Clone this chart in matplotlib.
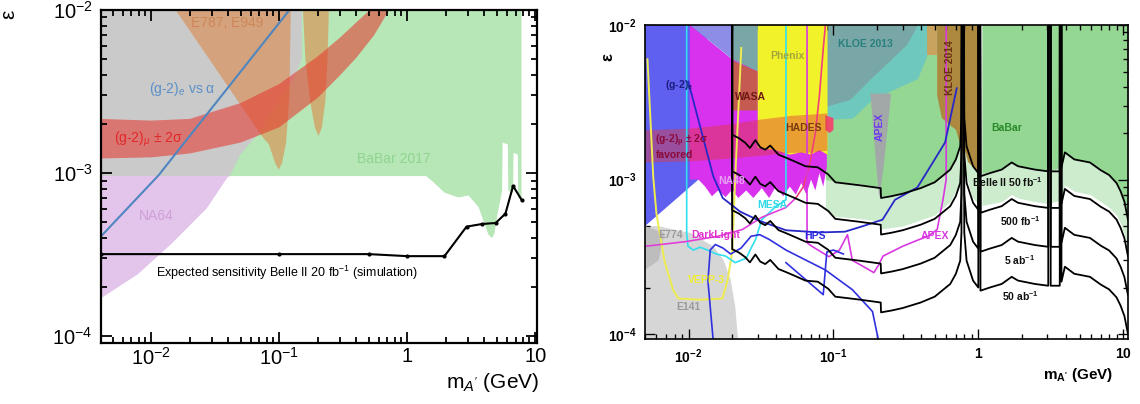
import numpy as np
import matplotlib.pyplot as plt
from matplotlib.ticker import FixedLocator, FixedFormatter, LogLocator, NullFormatter

plt.rcParams['font.family'] = ['Liberation Sans', 'DejaVu Sans']
plt.rcParams['mathtext.fontset'] = 'custom'
plt.rcParams['mathtext.rm'] = 'Liberation Sans'
plt.rcParams['mathtext.it'] = 'Liberation Sans:italic'
plt.rcParams['mathtext.bf'] = 'Liberation Sans:bold'

TOP = 1e-2

# ---------------- left panel data ----------------
na64_x = [0.00405, 0.00785, 0.0146, 0.0271, 0.0393, 0.041, 0.00405]
na64_y = [1.71e-4, 2.4e-4, 3.73e-4, 6.08e-4, 9.4e-4, 9.6e-4, 9.6e-4]

excl_x = [0.00405, 0.041, 0.0495, 0.071, 0.1, 0.13, 0.15, 0.15, 0.00405]
excl_y = [9.6e-4, 9.6e-4, 1.3e-3, 1.8e-3, 2.8e-3, 3.8e-3, 5e-3, 1e-2, 1e-2]

babar17_x = [0.02, 1.4, 1.6, 1.95, 2.5, 3.0, 3.6, 4.3, 4.6, 4.8, 5.06, 5.5, 5.55,
             6.1, 6.15, 6.7, 6.75, 7.3, 7.35, 7.8]
babar17_y = [9.6e-4, 9.6e-4, 8.8e-4, 7.6e-4, 7.1e-4, 7.3e-4, 6.2e-4, 4.2e-4, 4.0e-4,
             4.3e-4, 5.6e-4, 7.8e-4, 1.54e-3, 1.5e-3, 7.8e-4, 7.6e-4, 1.33e-3, 1.3e-3,
             7.0e-4, 7.0e-4]

e787a_x = [0.0155, 0.073, 0.083, 0.093, 0.099, 0.105, 0.113, 0.12, 0.123]
e787a_y = [1e-2, 1.69e-3, 1.5e-3, 1.15e-3, 1.05e-3, 1.15e-3, 1.54e-3, 3e-3, 1e-2]
e787b_x = [0.153, 0.16, 0.174, 0.19, 0.202, 0.215, 0.229, 0.238, 0.244]
e787b_y = [1e-2, 5e-3, 2.76e-3, 1.9e-3, 1.69e-3, 1.9e-3, 2.76e-3, 5e-3, 1e-2]

gm2mu_hi_x = [0.00405, 0.01, 0.02, 0.05, 0.1, 0.2, 0.3, 0.4, 0.51]
gm2mu_hi_y = [2.15e-3, 2.1e-3, 2.15e-3, 2.69e-3, 3.52e-3, 5.2e-3, 6.8e-3, 8.4e-3, 1e-2]
gm2mu_lo_x = [0.00405, 0.01, 0.02, 0.05, 0.1, 0.2, 0.3, 0.4, 0.55, 0.72]
gm2mu_lo_y = [1.23e-3, 1.25e-3, 1.32e-3, 1.54e-3, 1.91e-3, 2.9e-3, 4.0e-3, 5.1e-3, 7e-3, 1e-2]

gm2e_line_x = [0.00405, 0.0114, 0.12]
gm2e_line_y = [4.1e-4, 9.7e-4, 1e-2]

belle20_x = [0.00405, 0.1, 0.5, 1.0, 1.95, 2.9, 3.83, 4.9, 5.84, 6.7, 7.8]
belle20_y = [3.19e-4, 3.19e-4, 3.19e-4, 3.1e-4, 3.1e-4, 4.7e-4, 4.88e-4, 4.95e-4,
             5.65e-4, 8.35e-4, 6.87e-4]

# ---------------- right panel data ----------------
bab_x = [0.088, 0.1, 0.15, 0.2, 0.212, 0.213, 0.3, 0.5, 0.64, 0.7, 0.75, 0.8, 0.9, 0.985]
bab_lo = [1.0e-3, 9.8e-4, 9.4e-4, 9.0e-4, 8.9e-4, 7.8e-4, 8.2e-4, 9.7e-4, 1.17e-3,
          1.36e-3, 1.65e-3, 2.0e-3, 1.25e-3, 1.12e-3]
bab_fade = [6.5e-4, 5.8e-4, 5.6e-4, 5.4e-4, 5.3e-4, 4.8e-4, 5.0e-4, 5.9e-4, 7.2e-4,
            8.5e-4, 1.0e-3, 1.2e-3, 7.8e-4, 7.0e-4]
bab2_x = [1.06, 1.45, 1.7, 1.88, 2.46, 3.04, 3.75, 3.96, 4.6, 5.9, 7.0, 8.0, 9.0, 9.6, 10.2, 10.8]
bab2_lo = [1.1e-3, 1.17e-3, 1.3e-3, 1.23e-3, 1.17e-3, 1.14e-3, 1.2e-3, 1.5e-3, 1.36e-3,
           1.3e-3, 1.16e-3, 1.08e-3, 9.6e-4, 8.5e-4, 7.3e-4, 5.6e-4]
bab2_fade = [6.8e-4, 7.2e-4, 8.0e-4, 7.6e-4, 7.2e-4, 7.0e-4, 7.4e-4, 9.2e-4, 8.4e-4,
             8.0e-4, 7.2e-4, 6.6e-4, 5.9e-4, 5.2e-4, 4.4e-4, 3.4e-4]

kloe13_light_x = [0.09, 0.135, 0.185, 0.255, 0.38, 0.44, 0.47]
kloe13_light_y = [2.45e-3, 2.5e-3, 3.3e-3, 3.8e-3, 4.5e-3, 6.3e-3, 1e-2]
kloe13_dark_x = [0.02, 0.09, 0.13, 0.18, 0.25, 0.32, 0.38]
kloe13_dark_y = [2.8e-3, 3.0e-3, 3.3e-3, 4.5e-3, 6.0e-3, 7.5e-3, 1e-2]

apex_excl_x = [0.18, 0.25, 0.222, 0.207, 0.198]
apex_excl_y = [3.6e-3, 3.6e-3, 1.2e-3, 7.6e-4, 1.2e-3]

kloe14a_x = [0.44, 0.52, 0.52, 0.44]
kloe14a_y = [1e-2, 1e-2, 6.4e-3, 6.4e-3]
kloe14b_x = [0.52, 0.52, 0.56, 0.62, 0.7, 0.75, 0.77, 0.8, 0.85, 0.92, 0.99, 0.99]
kloe14b_y = [1e-2, 3.5e-3, 2.5e-3, 2.3e-3, 2.1e-3, 1.7e-3, 1.5e-3, 1.6e-3, 1.3e-3,
             1.2e-3, 1.12e-3, 1e-2]

e141_x = [0.005, 0.005, 0.0061, 0.0104, 0.0148, 0.0175, 0.0195, 0.021, 0.022]
e141_y = [9e-5, 5e-4, 5e-4, 4.5e-4, 3.7e-4, 3.0e-4, 2.25e-4, 1.5e-4, 9e-5]
e774_x = [0.005, 0.0068, 0.0062, 0.005]
e774_y = [5e-4, 4.5e-4, 3.0e-4, 2.6e-4]

gm2e_reg_x = [0.005, 0.0117, 0.0135, 0.0135, 0.005]
gm2e_reg_y = [5.0e-4, 1.0e-3, 1.2e-3, 1.0e-2, 1.0e-2]
lav_x = [0.0102, 0.02, 0.02]
lav_y = [1.0e-2, 1.0e-2, 6.0e-3]

na48_x = [0.0102, 0.02, 0.036, 0.06, 0.09, 0.09, 0.085, 0.08, 0.075, 0.07, 0.065, 0.06,
          0.055, 0.05, 0.045, 0.04, 0.036, 0.032, 0.028, 0.025, 0.022, 0.02, 0.018,
          0.016, 0.0145, 0.013, 0.0117, 0.0102]
na48_y = [1.0e-2, 6.0e-3, 4.6e-3, 3.5e-3, 2.7e-3, 1.2e-3, 9e-4, 1.1e-3, 8.5e-4, 1.0e-3,
          8e-4, 9.5e-4, 8e-4, 9e-4, 7.8e-4, 9e-4, 7.6e-4, 8.8e-4, 7.6e-4, 8.5e-4, 7.6e-4,
          8.6e-4, 7.7e-4, 8.5e-4, 7.8e-4, 9e-4, 1.0e-3, 1.0e-3]

wasa_x = [0.02, 0.030, 0.030, 0.02]
wasa_y = [5.9e-3, 5.0e-3, 2.8e-3, 2.8e-3]
phenix_x = [0.030, 0.091, 0.091, 0.08, 0.07, 0.06, 0.05, 0.04, 0.030]
phenix_y = [1e-2, 1e-2, 1.45e-3, 1.55e-3, 1.45e-3, 1.5e-3, 1.45e-3, 1.55e-3, 1.6e-3]
hades_x = [0.088, 0.1, 0.1, 0.094, 0.088]
hades_y = [2.6e-3, 2.5e-3, 2.1e-3, 2.0e-3, 2.1e-3]

band_x = [0.005, 0.01, 0.02, 0.03, 0.05, 0.07, 0.09]
band_lo = [1.3e-3, 1.32e-3, 1.38e-3, 1.43e-3, 1.5e-3, 1.5e-3, 1.55e-3]
band_hi = [2.1e-3, 2.15e-3, 2.3e-3, 2.45e-3, 2.6e-3, 2.65e-3, 2.7e-3]

gm2e_x = [0.00995, 0.0148, 0.0172, 0.0227, 0.031, 0.047, 0.08, 0.12, 0.16, 0.218, 0.266,
          0.38, 0.5, 0.59, 0.71]
gm2e_y = [4.3e-3, 1.05e-3, 7.6e-4, 6.2e-4, 5.4e-4, 4.7e-4, 4.55e-4, 4.6e-4, 5.0e-4,
          5.5e-4, 7.4e-4, 8.9e-4, 1.35e-3, 1.74e-3, 3.9e-3]
hps_x = [0.0148, 0.0136, 0.0141, 0.0153, 0.0173, 0.0195, 0.023, 0.027, 0.031, 0.036,
         0.047, 0.065, 0.088, 0.135, 0.186, 0.205]
hps_y = [9e-5, 2.2e-4, 3.5e-4, 3.8e-4, 3.6e-4, 3.3e-4, 3.6e-4, 4.3e-4, 4.4e-4, 4.1e-4,
         3.5e-4, 3.0e-4, 2.6e-4, 1.94e-4, 1.4e-4, 9e-5]
hps2_x = [0.047, 0.085, 0.09, 0.1, 0.117]
hps2_y = [2.9e-4, 1.8e-4, 3.4e-4, 3.5e-4, 3.3e-4]
darklight_x = [0.005, 0.0096, 0.016, 0.0235, 0.032, 0.047, 0.055]
darklight_y = [3.7e-4, 3.97e-4, 4.3e-4, 4.75e-4, 5.7e-4, 6.6e-4, 7.6e-4]
a1_x = [0.055, 0.062, 0.069, 0.075, 0.08, 0.085, 0.088]
a1_y = [7.6e-4, 9e-4, 1.3e-3, 2.0e-3, 3.5e-3, 7e-3, 1e-2]
apex_x = [0.0657, 0.0657, 0.071, 0.093, 0.11, 0.125, 0.135, 0.165, 0.19, 0.205, 0.22,
          0.3, 0.38, 0.45, 0.52, 0.57, 0.6, 0.6]
apex_y = [1e-2, 3.9e-4, 3.7e-4, 3.17e-4, 3.5e-4, 4.4e-4, 3.0e-4, 2.7e-4, 2.5e-4, 2.8e-4,
          3.2e-4, 3.7e-4, 4.05e-4, 4.3e-4, 4.75e-4, 7.4e-4, 1.0e-3, 1e-2]
mesa_x = [0.0097, 0.0097, 0.0099, 0.0108, 0.012, 0.0135, 0.0155, 0.018, 0.021, 0.025,
          0.027, 0.029, 0.032, 0.04, 0.047, 0.047]
mesa_y = [1e-2, 4.5e-4, 3.7e-4, 3.5e-4, 3.65e-4, 3.5e-4, 3.3e-4, 3.2e-4, 2.9e-4, 3.1e-4,
          3.6e-4, 4.1e-4, 5.5e-4, 6.7e-4, 7.4e-4, 1e-2]
e141_line_x = [0.0052, 0.0057, 0.006, 0.0068, 0.0078, 0.0085, 0.012, 0.0171, 0.0186,
               0.02, 0.021, 0.0231]
e141_line_y = [6e-3, 1.04e-3, 6e-4, 3.0e-4, 1.94e-4, 1.7e-4, 1.67e-4, 1.7e-4, 2.25e-4,
               3.4e-4, 1.05e-3, 7.1e-3]

# Belle II reach, 50 fb^-1 curve; the other luminosities sit lower by the read offsets
belle_x = [0.02, 0.02, 0.0223, 0.0246, 0.0265, 0.0289, 0.0312, 0.0338, 0.0366, 0.0417,
           0.0466, 0.055, 0.064, 0.078, 0.092, 0.103, 0.15, 0.212, 0.213, 0.25, 0.3,
           0.4, 0.5, 0.64, 0.7, 0.75, 0.765, 0.775, 0.785, 0.80, 0.83, 0.92, 1.0, 1.005,
           1.025, 1.035, 1.2, 1.45, 1.7, 1.88, 2.46, 3.04, 3.05, 3.15, 3.16, 3.65, 3.66,
           3.74, 3.75, 3.96, 4.6, 5.9, 7.0, 8.0, 9.0, 9.6, 10.2, 10.8]
belle_50fb = [1.0, 1.95e-3, 1.85e-3, 1.73e-3, 1.6e-3, 1.8e-3, 1.62e-3, 1.56e-3, 1.66e-3,
              1.45e-3, 1.39e-3, 1.3e-3, 1.22e-3, 1.2e-3, 1.08e-3, 9.6e-4, 9.2e-4, 8.8e-4,
              7.6e-4, 7.8e-4, 8.1e-4, 8.8e-4, 9.6e-4, 1.16e-3, 1.35e-3, 1.64e-3, 2.5e-3,
              1.0, 1.0, 2.5e-3, 1.64e-3, 1.22e-3, 1.1e-3, 1.0, 1.0, 1.05e-3, 1.1e-3,
              1.16e-3, 1.29e-3, 1.22e-3, 1.16e-3, 1.13e-3, 1.0, 1.0, 1.13e-3, 1.13e-3, 1.0,
              1.0, 1.2e-3, 1.5e-3, 1.35e-3, 1.29e-3, 1.15e-3, 1.07e-3, 9.5e-4, 8.4e-4,
              7.2e-4, 5.5e-4]
lumi_scale = [1.0, 0.58, 0.325, 0.182]
lumi_labels = [r'Belle II 50 fb$^{\mathbf{-1}}$', r'500 fb$^{\mathbf{-1}}$',
               r'5 ab$^{\mathbf{-1}}$', r'50 ab$^{\mathbf{-1}}$']


def style(ax, xlim, ylim, size, bold, major_len, minor_len, lw, xpad):
    ax.set_xscale('log')
    ax.set_yscale('log')
    ax.set_xlim(*xlim)
    ax.set_ylim(*ylim)
    if bold:
        xl = [r'$\mathbf{10^{-2}}$', r'$\mathbf{10^{-1}}$', r'$\mathbf{1}$', r'$\mathbf{10}$']
        yl = [r'$\mathbf{10^{-4}}$', r'$\mathbf{10^{-3}}$', r'$\mathbf{10^{-2}}$']
    else:
        xl = [r'$10^{-2}$', r'$10^{-1}$', '1', '10']
        yl = [r'$10^{-4}$', r'$10^{-3}$', r'$10^{-2}$']
    ax.xaxis.set_major_locator(FixedLocator([0.01, 0.1, 1, 10]))
    ax.xaxis.set_major_formatter(FixedFormatter(xl))
    ax.yaxis.set_major_locator(FixedLocator([1e-4, 1e-3, 1e-2]))
    ax.yaxis.set_major_formatter(FixedFormatter(yl))
    for a in (ax.xaxis, ax.yaxis):
        a.set_minor_locator(LogLocator(base=10, subs=np.arange(2, 10)))
        a.set_minor_formatter(NullFormatter())
    ax.tick_params(which='both', direction='in', top=True, right=True,
                   labelsize=size, width=lw * 0.8)
    ax.tick_params(which='major', length=major_len)
    ax.tick_params(which='minor', length=minor_len)
    ax.tick_params(axis='y', which='major', pad=6)
    ax.tick_params(axis='x', which='major', pad=xpad)
    for s in ax.spines.values():
        s.set_linewidth(lw)


fig = plt.figure(figsize=(11.4, 4.04), dpi=100)

# ================= left panel =================
ax1 = fig.add_axes([101 / 1140, 61 / 404, 436 / 1140, 333 / 404])
style(ax1, (0.00405, 10.3), (9.1e-5, 1e-2), 14.5, False, 8, 4.5, 1.6, 3)

ax1.fill(babar17_x + [7.8, 0.02], babar17_y + [TOP, TOP], color='#b7e6b7', lw=0, zorder=1)
ax1.fill(excl_x, excl_y, color='#cacaca', lw=0, zorder=1.2)
ax1.fill(na64_x, na64_y, color='#e3c4eb', lw=0, zorder=1.3)
ax1.fill(e787a_x, e787a_y, color='#dc8a4a', alpha=0.6, lw=0, zorder=1.4)
ax1.fill(e787b_x, e787b_y, color='#dc8a4a', alpha=0.6, lw=0, zorder=1.4)
ax1.fill(gm2mu_hi_x + gm2mu_lo_x[::-1], gm2mu_hi_y + gm2mu_lo_y[::-1],
         color='#e8322a', alpha=0.55, lw=0, zorder=1.5)
ax1.plot(gm2e_line_x, gm2e_line_y, color='#4f86c0', lw=1.5, zorder=2)
ax1.plot(belle20_x, belle20_y, color='black', lw=1.5, marker='o', ms=2, zorder=3)

ax1.text(0.0393, 8.3e-3, 'E787, E949', color='#cf8656', fontsize=10, ha='center', va='center')
ax1.text(0.0176, 3.27e-3, '(g-2)$_e$ vs α', color='#5a8fc8', fontsize=10, ha='center', va='center')
ax1.text(0.0095, 1.61e-3, r'(g-2)$_\mu$ ± 2σ', color='#e02828', fontsize=10, ha='center', va='center')
ax1.text(0.79, 1.22e-3, 'BaBar 2017', color='#8fd48f', fontsize=10, ha='center', va='center')
ax1.text(0.011, 5.5e-4, 'NA64', color='#cfa0d8', fontsize=10, ha='center', va='center')
ax1.text(0.116, 2.44e-4, r'Expected sensitivity Belle II 20 fb$^{-1}$ (simulation)',
         color='black', fontsize=9, ha='center', va='center', zorder=4)

fig.text(8.6 / 1140, 1 - 14 / 404, 'ε', rotation=90, fontsize=15, ha='center', va='center')
fig.text(539 / 1140, 1 - 383 / 404, r"m$_{A'}$ (GeV)", fontsize=15, ha='right', va='center')

# ================= right panel =================
ax2 = fig.add_axes([645 / 1140, 65 / 404, 483 / 1140, 314 / 404])
style(ax2, (0.005, 10.8), (9.3e-5, 1e-2), 10, True, 7, 3.5, 1.2, 6)

ax2.fill_between(bab_x, bab_fade, TOP, color='#cdeccd', lw=0, zorder=1)
ax2.fill_between(bab2_x, bab2_fade, TOP, color='#cdeccd', lw=0, zorder=1)
ax2.fill_between(bab_x, bab_lo, TOP, color='#93d793', lw=0, zorder=1.1)
ax2.fill_between(bab2_x, bab2_lo, TOP, color='#93d793', lw=0, zorder=1.1)
ax2.fill_between(kloe13_light_x, kloe13_light_y, TOP, color='#6ec8be', lw=0, zorder=1.2)
ax2.fill_between(kloe13_dark_x, kloe13_dark_y, TOP, color='#79a6a6', lw=0, zorder=1.25)
ax2.fill(apex_excl_x, apex_excl_y, color='#a2a8a8', lw=0, zorder=1.3)
ax2.fill(kloe14a_x, kloe14a_y, color='#c7a35f', lw=0, zorder=1.4)
ax2.fill(kloe14b_x, kloe14b_y, color='#ad8940', lw=0, zorder=1.4)
ax2.fill(e141_x, e141_y, color='#d6d6d6', lw=0, zorder=1.5)
ax2.fill(e774_x, e774_y, color='#bdbdbd', lw=0, zorder=1.55)
ax2.fill(gm2e_reg_x, gm2e_reg_y, color='#5f5ff0', lw=0, zorder=1.6)
ax2.fill(na48_x, na48_y, color='#d832ee', lw=0, zorder=1.7)
ax2.fill(lav_x, lav_y, color='#8d8de8', lw=0, zorder=1.72)
ax2.fill(wasa_x, wasa_y, color='#c45a50', lw=0, zorder=1.8)
ax2.fill(phenix_x, phenix_y, color='#f2f22a', lw=0, zorder=1.8)
ax2.fill(hades_x, hades_y, color='#ee4b6e', lw=0, zorder=1.85)
ax2.fill_between(band_x, band_lo, band_hi, color='#e03a3a', alpha=0.45, lw=0, zorder=1.9)

ax2.plot(e141_line_x, e141_line_y, color='#eeec50', lw=1.4, zorder=2)
ax2.plot(mesa_x, mesa_y, color='#30e0f0', lw=1.2, zorder=2)
ax2.plot(darklight_x, darklight_y, color='#e040d8', lw=1.2, zorder=2)
ax2.plot(a1_x, a1_y, color='#f0407a', lw=1.2, zorder=2)
ax2.plot(apex_x, apex_y, color='#d838e0', lw=1.2, zorder=2)
ax2.plot(gm2e_x, gm2e_y, color='#2828c8', lw=1.3, zorder=2.1)
ax2.plot(hps_x, hps_y, color='#3030e0', lw=1.2, zorder=2.1)
ax2.plot(hps2_x, hps2_y, color='#3030e0', lw=1.2, zorder=2.1)

belle = np.array(belle_50fb)
for s in lumi_scale:
    ax2.plot(belle_x, belle * s, color='black', lw=1.3, zorder=3)

lab = dict(fontsize=7.5, fontweight='bold', ha='center', va='center', zorder=4)
ax2.text(0.00857, 4.1e-3, '(g-2)$_\\mathbf{e}$', color='#1c1c80', **lab)
ax2.text(0.0059, 1.77e-3, r'(g-2)$_\mathbf{\mu}$ ± 2σ', color='#8b0a3a',
         **{**lab, 'ha': 'left'})
ax2.text(0.0059, 1.45e-3, 'favored', color='#8b0a3a', **{**lab, 'ha': 'left'})
ax2.text(0.021, 3.4e-3, 'WASA', color='#6e1a14', **{**lab, 'ha': 'left'})
ax2.text(0.048, 6.3e-3, 'Phenix', color='#a5a53a', **lab)
ax2.text(0.062, 2.17e-3, 'HADES', color='#7a3a10', **lab)
ax2.text(0.166, 7.5e-3, 'KLOE 2013', color='#2a8080', **lab)
ax2.text(0.64, 5.3e-3, 'KLOE 2014', color='#6a3010', rotation=90, **lab)
ax2.text(0.21, 2.2e-3, 'APEX', color='#6a3af0', rotation=90, **lab)
ax2.text(1.58, 2.17e-3, 'BaBar', color='#2a8a2a', **lab)
ax2.text(0.0198, 9.8e-4, 'NA48', color='#e7a0f5', **lab)
ax2.text(0.038, 6.8e-4, 'MESA', color='#30d8e8', **lab)
ax2.text(0.0075, 4.4e-4, 'E774', color='#9a9a9a', **lab)
ax2.text(0.0153, 4.4e-4, 'DarkLight', color='#e030d0', **lab)
ax2.text(0.075, 4.3e-4, 'HPS', color='#2a2ae0', **lab)
ax2.text(0.5, 4.3e-4, 'APEX', color='#d838e0', **lab)
ax2.text(0.01, 1.49e-4, 'E141', color='#9a9a9a', **lab)
ax2.text(0.0133, 2.25e-4, 'VEPP-3', color='#f0ee30', **lab)
for t, (xx, yy) in zip(lumi_labels, [(1.58, 9.7e-4), (1.94, 5.4e-4), (1.94, 3.0e-4), (1.94, 1.75e-4)]):
    ax2.text(xx, yy, t, color='#111111', **lab)

fig.text(608 / 1140, 1 - 57 / 404, 'ε', rotation=90, fontsize=12, fontweight='bold',
         ha='center', va='center')
fig.text(1113 / 1140, 1 - 375 / 404, r"m$_{\mathbf{A'}}$ (GeV)", fontsize=11,
         fontweight='bold', ha='right', va='center')

fig.savefig('out.png', dpi=100)
